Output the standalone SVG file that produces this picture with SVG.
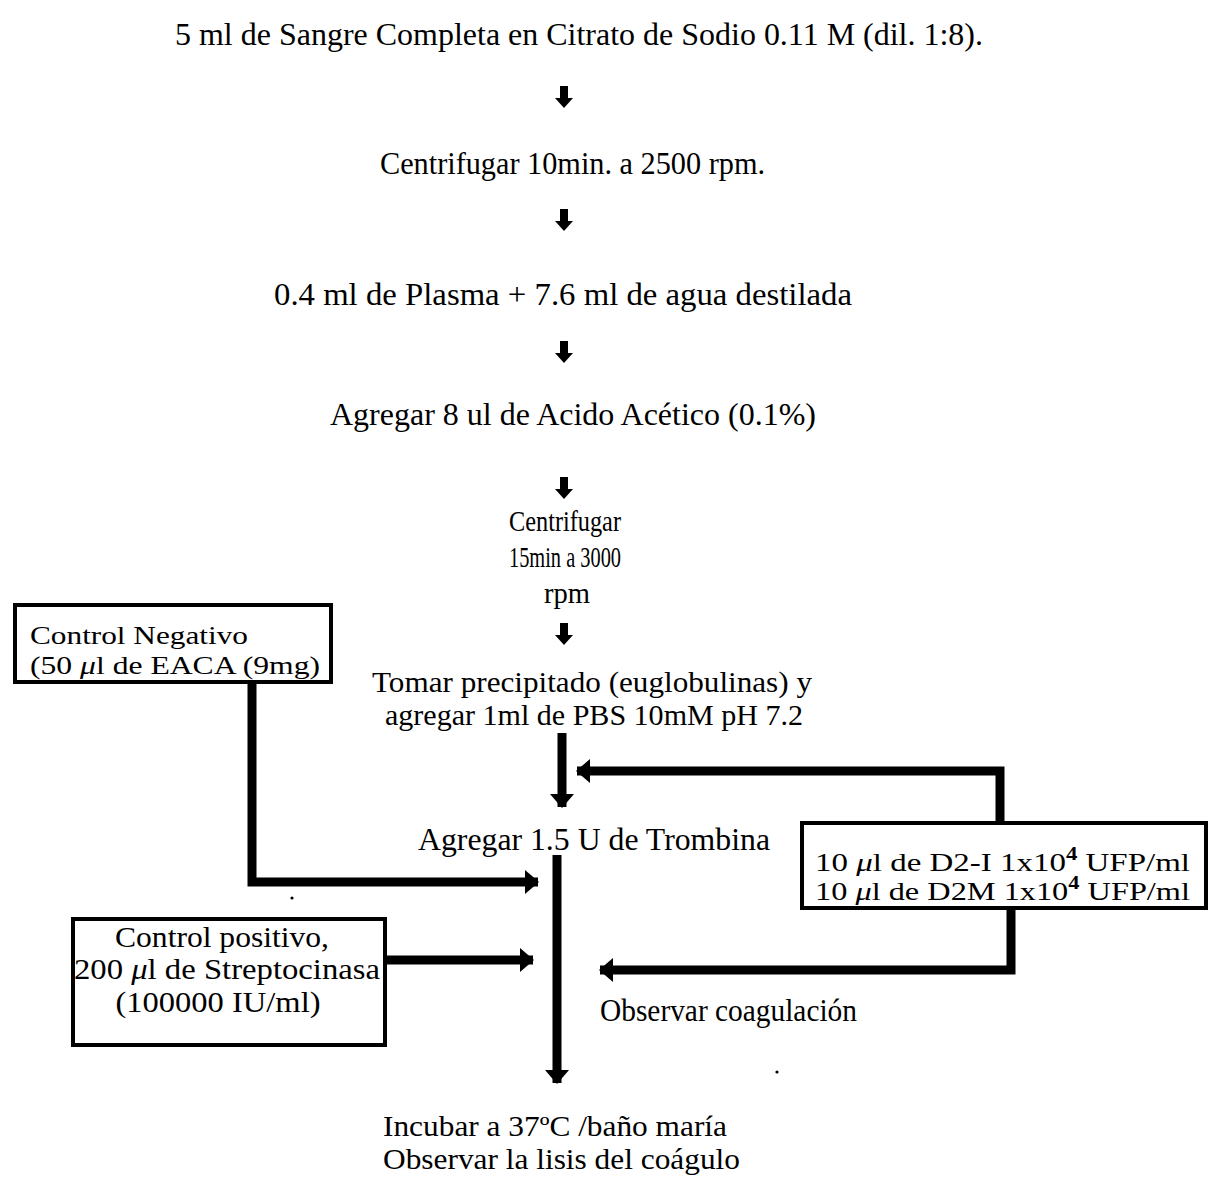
<svg xmlns="http://www.w3.org/2000/svg" width="1210" height="1182" viewBox="0 0 1210 1182">
  <style>
    text { font-family: "Liberation Serif", "Times New Roman", serif; fill: #000; }
    .t { font-size: 32px; }
    .s { font-size: 29px; }
    .b { font-size: 29px; }
    .bn { font-size: 26px; }
    .box { fill: #fff; stroke: #000; stroke-width: 4; }
    .con { fill: none; stroke: #000; stroke-width: 9; }
    .mu { font-style: italic; }
    .sup { font-size: 18px; font-weight: bold; }
  </style>
  <defs>
    <marker id="ah" markerUnits="userSpaceOnUse" markerWidth="14" markerHeight="24" refX="13" refY="12" orient="auto">
      <path d="M0,0 L14,12 L0,24 Z" fill="#000"/>
    </marker>
    <path id="sa" d="M-4,0 H4 V12 H9 L0,22 L-9,12 H-4 Z" fill="#000"/>
  </defs>
  <rect width="1210" height="1182" fill="#fff"/>

  <g id="connectors">
    <use href="#sa" x="564" y="86"/>
    <use href="#sa" x="564" y="209"/>
    <use href="#sa" x="564" y="341"/>
    <use href="#sa" x="564" y="477"/>
    <use href="#sa" x="564" y="623"/>
    <path class="con" d="M562,733 V807" marker-end="url(#ah)"/>
    <path class="con" d="M1000,822 V771 H577" marker-end="url(#ah)"/>
    <path class="con" d="M557,855 V1083" marker-end="url(#ah)"/>
    <path class="con" d="M252,682 V882 H538" marker-end="url(#ah)"/>
    <path class="con" d="M385,960 H533" marker-end="url(#ah)"/>
    <path class="con" d="M1011,908 V970 H600" marker-end="url(#ah)"/>
  </g>

  <g id="n1"><text class="t" x="175" y="45" textLength="808" lengthAdjust="spacingAndGlyphs">5  ml de Sangre Completa en Citrato de Sodio 0.11 M (dil. 1:8).</text></g>
  <g id="n2"><text class="t" x="380" y="174" textLength="385" lengthAdjust="spacingAndGlyphs">Centrifugar 10min. a 2500 rpm.</text></g>
  <g id="n3"><text class="t" x="274" y="305" textLength="578" lengthAdjust="spacingAndGlyphs">0.4 ml de Plasma + 7.6 ml de agua destilada</text></g>
  <g id="n4"><text class="t" x="330" y="425" textLength="486" lengthAdjust="spacingAndGlyphs">Agregar 8 ul de Acido Acético (0.1%)</text></g>
  <g id="n5">
    <text class="s" x="565" y="531" text-anchor="middle" textLength="112" lengthAdjust="spacingAndGlyphs">Centrifugar</text>
    <text class="s" x="565" y="567" text-anchor="middle" textLength="112" lengthAdjust="spacingAndGlyphs">15min a 3000</text>
    <text class="s" x="567" y="603" text-anchor="middle" textLength="46" lengthAdjust="spacingAndGlyphs">rpm</text>
  </g>
  <g id="n6">
    <text class="s" x="372" y="692" textLength="440" lengthAdjust="spacingAndGlyphs">Tomar precipitado (euglobulinas) y</text>
    <text class="s" x="385" y="725" textLength="418" lengthAdjust="spacingAndGlyphs">agregar 1ml de PBS 10mM pH 7.2</text>
  </g>
  <g id="n7"><text class="t" x="418" y="850" textLength="352" lengthAdjust="spacingAndGlyphs">Agregar 1.5 U de Trombina</text></g>
  <g id="n8"><text class="t" x="600" y="1021" textLength="257" lengthAdjust="spacingAndGlyphs">Observar coagulación</text></g>
  <g id="n9">
    <text class="s" x="383" y="1136" textLength="344" lengthAdjust="spacingAndGlyphs">Incubar a 37ºC /baño maría</text>
    <text class="s" x="383" y="1169" textLength="357" lengthAdjust="spacingAndGlyphs">Observar la lisis del coágulo</text>
  </g>

  <g id="neg">
    <rect class="box" x="15" y="605" width="316" height="77"/>
    <text class="bn" x="30" y="644" textLength="218" lengthAdjust="spacingAndGlyphs">Control Negativo</text>
    <text class="bn" x="30" y="674" textLength="290" lengthAdjust="spacingAndGlyphs">(50 <tspan class="mu">μ</tspan>l de EACA (9mg)</text>
  </g>

  <g id="pos">
    <rect class="box" x="73" y="919" width="312" height="126"/>
    <text class="b" x="222" y="947" text-anchor="middle" textLength="214" lengthAdjust="spacingAndGlyphs">Control positivo,</text>
    <text class="b" x="227" y="979" text-anchor="middle" textLength="306" lengthAdjust="spacingAndGlyphs">200 <tspan class="mu">μ</tspan>l de Streptocinasa</text>
    <text class="b" x="218" y="1012" text-anchor="middle" textLength="205" lengthAdjust="spacingAndGlyphs">(100000 IU/ml)</text>
  </g>

  <g id="d2">
    <rect class="box" x="802" y="823" width="404" height="85"/>
    <text class="bn" x="815" y="871" textLength="375" lengthAdjust="spacingAndGlyphs">10  <tspan class="mu">μ</tspan>l de D2-I  1x10<tspan class="sup" dy="-11">4</tspan><tspan dy="11"> UFP/ml</tspan></text>
    <text class="bn" x="815" y="900" textLength="375" lengthAdjust="spacingAndGlyphs">10  <tspan class="mu">μ</tspan>l de D2M  1x10<tspan class="sup" dy="-11">4</tspan><tspan dy="11"> UFP/ml</tspan></text>
  </g>

  <circle cx="292" cy="898" r="1.6" fill="#000"/>
  <circle cx="777" cy="1072" r="1.6" fill="#000"/>
</svg>
